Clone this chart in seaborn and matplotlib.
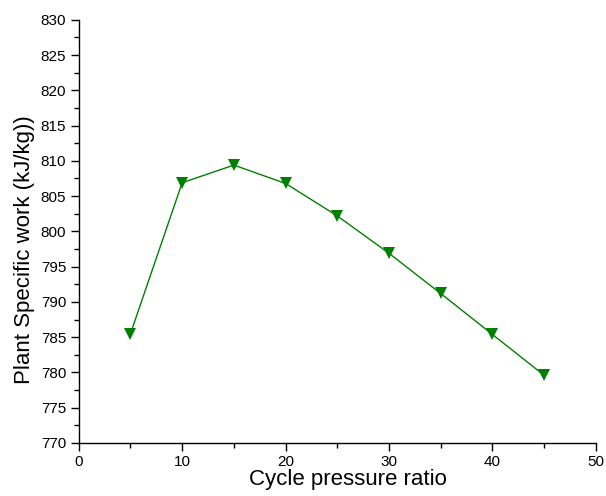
import matplotlib
matplotlib.use("Agg")
import matplotlib.pyplot as plt
import seaborn as sns
import pandas as pd
from matplotlib.ticker import MultipleLocator

pressure_ratio = [5, 10, 15, 20, 25, 30, 35, 40, 45]
specific_work = [785.5, 806.9, 809.4, 806.8, 802.2, 796.9, 791.2, 785.4, 779.6]

df = pd.DataFrame({'ratio': pressure_ratio, 'work': specific_work})

sns.set_style('ticks')
plt.rcParams['font.family'] = ['Liberation Sans', 'DejaVu Sans']
plt.rcParams['text.color'] = 'black'
plt.rcParams['axes.labelcolor'] = 'black'

fig = plt.figure(figsize=(6.06, 4.96), dpi=100)
ax = fig.add_axes([0.130, 0.107, 0.853, 0.853])

sns.lineplot(data=df, x='ratio', y='work', ax=ax, color='#008000',
             linewidth=1, marker='v', markersize=8, markeredgewidth=0)

ax.set_xlim(0, 50)
ax.set_ylim(770, 830)
ax.xaxis.set_major_locator(MultipleLocator(10))
ax.xaxis.set_minor_locator(MultipleLocator(5))
ax.yaxis.set_major_locator(MultipleLocator(5))
ax.yaxis.set_minor_locator(MultipleLocator(2.5))
ax.tick_params(which='major', length=6, width=1, pad=3, labelsize=11, color='black', labelcolor='black')
ax.tick_params(which='minor', length=3.5, width=1, color='black')
for s in ['left', 'bottom']:
    ax.spines[s].set_color('black')
    ax.spines[s].set_linewidth(1)
sns.despine(ax=ax)

ax.set_xlabel('Cycle pressure ratio', fontsize=16, labelpad=0, x=0.521, color='black')
ax.set_ylabel('Plant Specific work (kJ/kg))', fontsize=16, labelpad=4, y=0.457, color='black')

fig.savefig('out.png', dpi=100)
